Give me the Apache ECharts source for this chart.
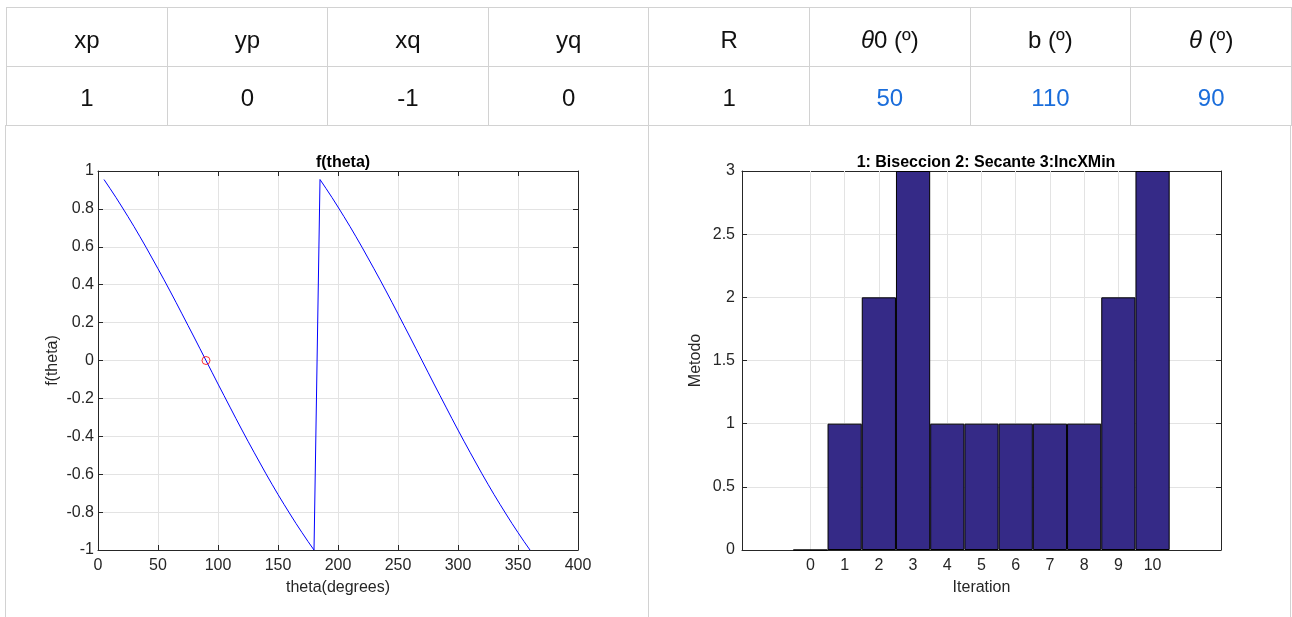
<!DOCTYPE html>
<html>
<head>
<meta charset="utf-8">
<script src="https://cdn.jsdelivr.net/npm/echarts@6/dist/echarts.min.js"></script>
<style>
  html, body { margin: 0; padding: 0; background: #fff; width: 1292px; height: 617px; overflow: hidden;
    font-family: "Liberation Sans", Arial, Helvetica, sans-serif; }
  #chart { position: absolute; left: 0; top: 0; width: 1292px; height: 617px; }
  #tbl { position: absolute; left: 6px; top: 7px; border-collapse: collapse; table-layout: fixed; }
  #tbl td { width: 160px; padding: 0; border: 1px solid #d2d2d2; text-align: center;
    font-size: 24px; color: #111; }
  #hdr td { height: 53px; padding-top: 5px; }
  #vals td { height: 55px; padding-top: 3px; }
  #tbl td.blue { color: #1a6ddb; }
  .vline { position: absolute; top: 125px; width: 1px; height: 500px; background: #d2d2d2; }
</style>
</head>
<body>
<div id="chart"></div>
<table id="tbl"><tr id="hdr"></tr><tr id="vals"></tr></table>
<div class="vline" style="left:5px"></div>
<div class="vline" style="left:648px"></div>
<div class="vline" style="left:1290px"></div>
<script>
// table
const headers = ['xp', 'yp', 'xq', 'yq', 'R', 'θ0 (º)', 'b (º)', 'θ (º)'];
const values = ['1', '0', '-1', '0', '1', '50', '110', '90'];
const editable = [false, false, false, false, false, true, true, true];

// f(theta) curve
const thetaDeg = [5, 10, 15, 20, 25, 30, 35, 40, 45, 50, 55, 60, 65, 70, 75, 80, 85, 90,
  95, 100, 105, 110, 115, 120, 125, 130, 135, 140, 145, 150, 155, 160, 165, 170, 175, 180,
  185, 190, 195, 200, 205, 210, 215, 220, 225, 230, 235, 240, 245, 250, 255, 260, 265, 270,
  275, 280, 285, 290, 295, 300, 305, 310, 315, 320, 325, 330, 335, 340, 345, 350, 355, 360];
const fTheta = [0.955, 0.908, 0.860, 0.810, 0.759, 0.707, 0.653, 0.598, 0.541, 0.484, 0.426, 0.367,
  0.307, 0.246, 0.185, 0.124, 0.062, 0.000, -0.062, -0.124, -0.185, -0.246, -0.307, -0.367,
  -0.426, -0.484, -0.541, -0.598, -0.653, -0.707, -0.759, -0.810, -0.860, -0.908, -0.955, -1.000,
  0.955, 0.908, 0.860, 0.810, 0.759, 0.707, 0.653, 0.598, 0.541, 0.484, 0.426, 0.367,
  0.307, 0.246, 0.185, 0.124, 0.062, 0.000, -0.062, -0.124, -0.185, -0.246, -0.307, -0.367,
  -0.426, -0.484, -0.541, -0.598, -0.653, -0.707, -0.759, -0.810, -0.860, -0.908, -0.955, -1.000];
const rootPoint = [90, 0];

// method used per iteration
const iterations = [0, 1, 2, 3, 4, 5, 6, 7, 8, 9, 10];
const metodo = [0, 1, 2, 3, 1, 1, 1, 1, 1, 2, 3];

const hdr = document.getElementById('hdr');
const vals = document.getElementById('vals');
headers.forEach((h, i) => {
  const th = document.createElement('td');
  th.innerHTML = h.replace('θ', '<i>θ</i>');
  hdr.appendChild(th);
  const td = document.createElement('td');
  td.textContent = values[i];
  if (editable[i]) td.className = 'blue';
  vals.appendChild(td);
});

const axisColor = '#262626';
const gridColor = '#e3e3e3';
const font = 'Liberation Sans';
const fs = 16;
const labelStyle = { color: axisColor, fontSize: fs, fontFamily: font };
const nameStyle = { color: axisColor, fontSize: fs, fontFamily: font };
const titleStyle = { fontSize: fs, fontWeight: 'bold', color: '#000', fontFamily: font };

function boxAxis(base) {
  // the mirrored (top / right) axis of the matlab box
  return Object.assign({
    axisLine: { show: true, onZero: false, lineStyle: { color: axisColor, width: 1 } },
    axisTick: { show: true, inside: true, length: 5, lineStyle: { color: axisColor } },
    axisLabel: { show: false },
    splitLine: { show: false }
  }, base);
}

var myChart = echarts.init(document.getElementById('chart'));
myChart.setOption({
  animation: false,
  title: [
    { text: 'f(theta)', left: 338, top: 150, textAlign: 'center', textStyle: titleStyle },
    { text: '1: Biseccion 2: Secante 3:IncXMin', left: 981, top: 150, textAlign: 'center', textStyle: titleStyle }
  ],
  grid: [
    { left: 98, top: 171, width: 480, height: 379 },
    { left: 742, top: 171, width: 479, height: 379 }
  ],
  xAxis: [
    {
      type: 'value', gridIndex: 0, min: 0, max: 400, interval: 50,
      name: 'theta(degrees)', nameLocation: 'middle', nameGap: 30, nameTextStyle: nameStyle,
      axisLine: { show: true, onZero: false, lineStyle: { color: axisColor } },
      axisTick: { show: true, inside: true, length: 5, lineStyle: { color: axisColor } },
      axisLabel: Object.assign({ margin: 8 }, labelStyle),
      splitLine: { show: true, lineStyle: { color: gridColor } }
    },
    boxAxis({ type: 'value', gridIndex: 0, position: 'top', min: 0, max: 400, interval: 50 }),
    {
      type: 'value', gridIndex: 1, min: -2, max: 12, interval: 1,
      name: 'Iteration', nameLocation: 'middle', nameGap: 30, nameTextStyle: nameStyle,
      axisLine: { show: true, onZero: false, lineStyle: { color: axisColor } },
      axisTick: { show: true, inside: true, length: 5, customValues: iterations, lineStyle: { color: axisColor } },
      axisLabel: Object.assign({ margin: 8, customValues: iterations }, labelStyle),
      splitLine: { show: false }
    },
    boxAxis({ type: 'value', gridIndex: 1, position: 'top', min: -2, max: 12, interval: 1,
      axisTick: { show: true, inside: true, length: 5, customValues: iterations, lineStyle: { color: axisColor } } })
  ],
  yAxis: [
    {
      type: 'value', gridIndex: 0, min: -1, max: 1, interval: 0.2,
      name: 'f(theta)', nameLocation: 'middle', nameGap: 37, nameTextStyle: nameStyle,
      axisLine: { show: true, onZero: false, lineStyle: { color: axisColor } },
      axisTick: { show: true, inside: true, length: 5, lineStyle: { color: axisColor } },
      axisLabel: Object.assign({ margin: 4 }, labelStyle),
      splitLine: { show: true, lineStyle: { color: gridColor } }
    },
    boxAxis({ type: 'value', gridIndex: 0, position: 'right', min: -1, max: 1, interval: 0.2 }),
    {
      type: 'value', gridIndex: 1, min: 0, max: 3, interval: 0.5,
      name: 'Metodo', nameLocation: 'middle', nameGap: 38, nameTextStyle: nameStyle,
      axisLine: { show: true, onZero: false, lineStyle: { color: axisColor } },
      axisTick: { show: true, inside: true, length: 5, lineStyle: { color: axisColor } },
      axisLabel: Object.assign({ margin: 7 }, labelStyle),
      splitLine: { show: true, lineStyle: { color: gridColor } }
    },
    boxAxis({ type: 'value', gridIndex: 1, position: 'right', min: 0, max: 3, interval: 0.5 })
  ],
  series: [
    {
      name: 'f(theta)', type: 'line', xAxisIndex: 0, yAxisIndex: 0,
      data: thetaDeg.map((t, i) => [t, fTheta[i]]),
      showSymbol: false, symbol: 'none',
      lineStyle: { color: '#0000ff', width: 1 }
    },
    {
      name: 'root', type: 'scatter', xAxisIndex: 0, yAxisIndex: 0,
      data: [rootPoint], symbol: 'circle', symbolSize: 8, z: 3,
      itemStyle: { color: 'rgba(0,0,0,0)', borderColor: '#ff0000', borderWidth: 1 }
    },
    {
      name: 'Metodo', type: 'bar', xAxisIndex: 2, yAxisIndex: 2,
      data: iterations.map((it, i) => [it, metodo[i]]),
      barWidth: '100%',
      itemStyle: { color: '#352a87', borderColor: '#000', borderWidth: 1 },
      markLine: {
        z: 1, silent: true, symbol: ['none', 'none'], animation: false,
        label: { show: false },
        lineStyle: { color: gridColor, type: 'solid', width: 1 },
        data: iterations.map(v => ({ xAxis: v }))
      }
    }
  ]
});
</script>
</body>
</html>
